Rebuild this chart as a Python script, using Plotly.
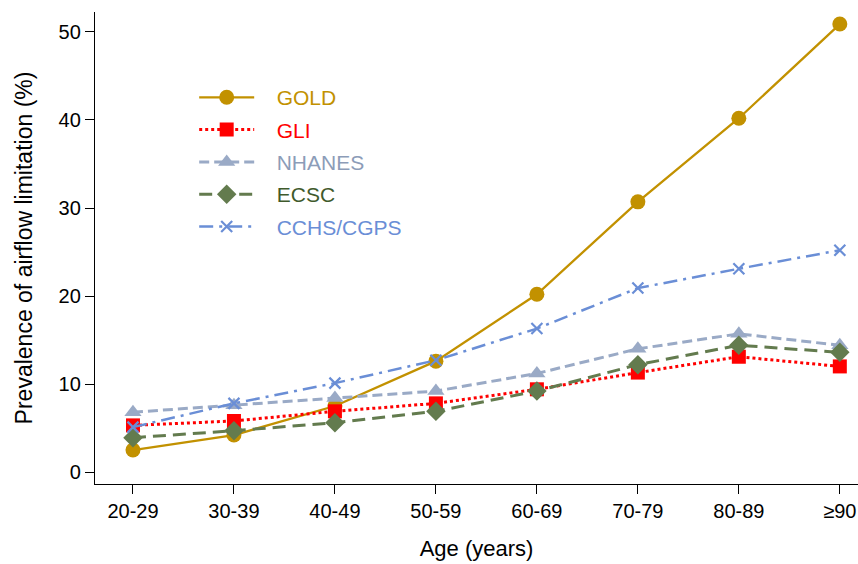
import plotly.graph_objects as go

age_groups = ["20-29", "30-39", "40-49", "50-59", "60-69", "70-79", "80-89", "≥90"]
gold = [2.5, 4.2, 7.5, 12.6, 20.2, 30.7, 40.2, 50.9]
gli = [5.3, 5.8, 6.9, 7.8, 9.4, 11.3, 13.1, 12.0]
nhanes = [6.8, 7.6, 8.4, 9.2, 11.2, 14.0, 15.7, 14.4]
ecsc = [3.9, 4.7, 5.6, 6.9, 9.2, 12.2, 14.4, 13.6]
cchs = [5.1, 7.8, 10.1, 12.7, 16.3, 20.9, 23.1, 25.2]

x_idx = list(range(len(age_groups)))

series = [
    ("GOLD", gold, "#C29100", "solid", 2.3, "circle", 15),
    ("GLI", gli, "#FF0000", "3px,3px", 3, "square", 14),
    ("NHANES", nhanes, "#9AAAC6", "10px,5px", 3, "triangle-up", 15),
    ("ECSC", ecsc, "#637B4E", "13px,7px", 3, "diamond", 15),
    ("CCHS/CGPS", cchs, "#6A8ED6", "14px,6px,3px,6px", 2.5, "x-thin", 11),
]
text_colors = {"GOLD": "#C29100", "GLI": "#FF0000", "NHANES": "#8C9CB8",
               "ECSC": "#3F5A2C", "CCHS/CGPS": "#6A8ED6"}

fig = go.Figure()
for name, vals, col, dash, w, sym, size in series:
    marker = dict(symbol=sym, size=size, color=col)
    if sym == "x-thin":
        marker["line"] = dict(color=col, width=2.2)
    fig.add_trace(go.Scatter(
        x=x_idx, y=vals, mode="lines+markers",
        name=f'&nbsp;&nbsp;&nbsp;<span style="color:{text_colors[name]}">{name}</span>',
        legendgroup=name,
        line=dict(color=col, dash=dash, width=w),
        marker=marker,
    ))

fig.update_layout(
    width=858, height=564,
    margin=dict(l=95, r=0, t=12, b=80),
    paper_bgcolor="white", plot_bgcolor="white",
    font=dict(family="Liberation Sans, Arial, sans-serif", size=20, color="black"),
    showlegend=True,
    legend=dict(x=0.13, y=0.862, xanchor="left", yanchor="top",
                bgcolor="rgba(0,0,0,0)", font=dict(size=21),
                itemwidth=55, tracegroupgap=2),
    xaxis=dict(
        range=[-0.376, 7.18], tickmode="array", tickvals=x_idx, ticktext=age_groups,
        showline=True, linecolor="black", linewidth=1.3, mirror=False,
        ticks="outside", ticklen=9, tickcolor="black", tickwidth=1.3,
        showgrid=False, zeroline=False, automargin=False,
        title=dict(text="Age (years)", font=dict(size=22), standoff=19),
    ),
    yaxis=dict(
        range=[-1.36, 52.27], tickvals=[0, 10, 20, 30, 40, 50],
        showline=True, linecolor="black", linewidth=1.3,
        ticks="outside", ticklen=9, tickcolor="black", tickwidth=1.3,
        showgrid=False, zeroline=False, automargin=False,
        title=dict(text="Prevalence of airflow limitation (%)", font=dict(size=23), standoff=19),
    ),
)

fig.write_html(
    "out.html",
    config={"displayModeBar": False},
    post_script="document.body.style.margin='0';document.body.style.overflow='hidden';",
)
